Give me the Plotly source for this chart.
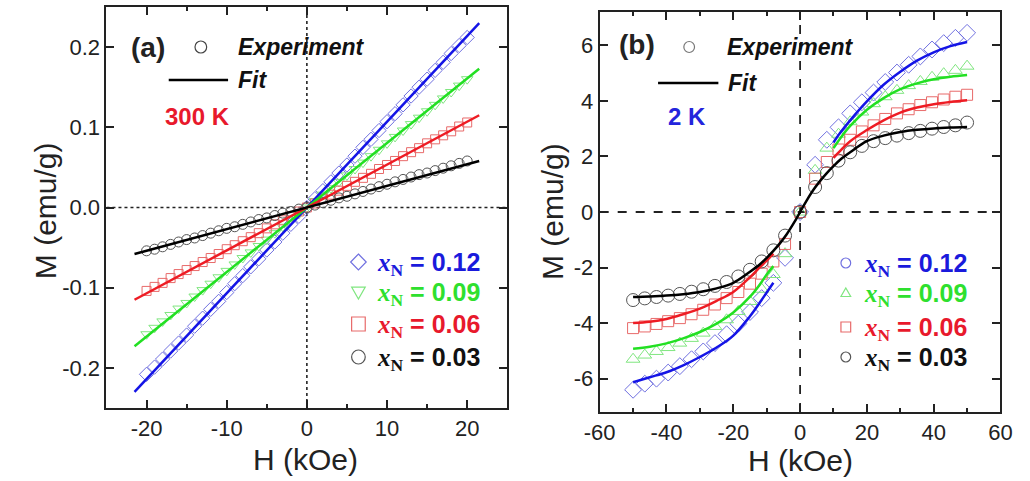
import plotly.graph_objects as go

W, H = 1030, 481

# ---------------- (a) 300 K : M(H) is linear ----------------
H_a = [-20, -19, -18, -17, -16, -15, -14, -13, -12, -11, -10, -9, -8, -7, -6, -5, -4, -3, -2, -1,
       0, 1, 2, 3, 4, 5, 6, 7, 8, 9, 10, 11, 12, 13, 14, 15, 16, 17, 18, 19, 20]

M_a_012 = [-0.208, -0.199, -0.189, -0.179, -0.169, -0.159, -0.148, -0.138, -0.127, -0.117, -0.106,
           -0.095, -0.085, -0.074, -0.064, -0.053, -0.043, -0.032, -0.021, -0.011, 0.000,
           0.011, 0.021, 0.032, 0.043, 0.053, 0.064, 0.075, 0.085, 0.096, 0.107,
           0.117, 0.128, 0.139, 0.150, 0.160, 0.171, 0.181, 0.192, 0.202, 0.212]
M_a_009 = [-0.158, -0.150, -0.142, -0.134, -0.126, -0.119, -0.111, -0.103, -0.095, -0.087, -0.079,
           -0.071, -0.063, -0.056, -0.048, -0.040, -0.032, -0.024, -0.016, -0.008, 0.000,
           0.008, 0.016, 0.024, 0.032, 0.040, 0.048, 0.056, 0.064, 0.072, 0.080,
           0.088, 0.096, 0.104, 0.112, 0.120, 0.128, 0.136, 0.144, 0.152, 0.160]
M_a_006 = [-0.104, -0.099, -0.094, -0.088, -0.083, -0.078, -0.073, -0.068, -0.063, -0.058, -0.052,
           -0.047, -0.042, -0.037, -0.032, -0.026, -0.021, -0.016, -0.011, -0.005, 0.000,
           0.005, 0.011, 0.016, 0.021, 0.027, 0.032, 0.037, 0.042, 0.048, 0.053,
           0.058, 0.064, 0.069, 0.074, 0.080, 0.085, 0.090, 0.095, 0.101, 0.106]
M_a_003 = [-0.054, -0.052, -0.049, -0.046, -0.043, -0.040, -0.038, -0.035, -0.032, -0.029, -0.026,
           -0.024, -0.021, -0.018, -0.015, -0.013, -0.010, -0.007, -0.005, -0.002, 0.000,
           0.003, 0.006, 0.009, 0.012, 0.014, 0.017, 0.020, 0.023, 0.026, 0.029,
           0.032, 0.035, 0.038, 0.041, 0.043, 0.046, 0.049, 0.052, 0.055, 0.058]

H_a_fit = [-21.5, 21.5]
F_a_012 = [-0.230, 0.230]
F_a_009 = [-0.173, 0.173]
F_a_006 = [-0.115, 0.115]
F_a_003 = [-0.058, 0.058]

# ---------------- (b) 2 K : saturating M(H) ----------------
H_b = [-50, -46.5, -43, -39.5, -36, -32.5, -29, -25.5, -22, -18.5, -15, -11.5, -8, -4.5, 0,
       4.5, 8, 11.5, 15, 18.5, 22, 25.5, 29, 32.5, 36, 39.5, 43, 46.5, 50]

M_b_012 = [-6.40, -6.18, -6.00, -5.78, -5.55, -5.30, -5.02, -4.72, -4.40, -4.02, -3.60, -3.10, -2.55, -1.65, 0.0,
           1.70, 2.60, 3.05, 3.55, 3.95, 4.30, 4.68, 5.02, 5.30, 5.60, 5.85, 6.08, 6.27, 6.45]
M_b_009 = [-5.30, -5.15, -5.02, -4.88, -4.72, -4.55, -4.36, -4.12, -3.88, -3.58, -3.22, -2.78, -2.25, -1.50, 0.0,
           1.50, 2.30, 2.80, 3.25, 3.60, 3.90, 4.15, 4.38, 4.55, 4.70, 4.85, 4.98, 5.10, 5.25]
M_b_006 = [-4.18, -4.12, -4.03, -3.93, -3.82, -3.68, -3.52, -3.33, -3.10, -2.88, -2.58, -2.22, -1.78, -1.15, 0.0,
           1.20, 1.80, 2.25, 2.60, 2.90, 3.12, 3.35, 3.55, 3.70, 3.85, 3.95, 4.05, 4.15, 4.22]
M_b_003 = [-3.17, -3.11, -3.06, -3.01, -2.95, -2.87, -2.78, -2.66, -2.52, -2.32, -2.08, -1.78, -1.38, -0.85, 0.0,
           0.90, 1.40, 1.85, 2.15, 2.38, 2.55, 2.66, 2.75, 2.84, 2.92, 3.00, 3.06, 3.12, 3.22]

# fit curves (None breaks the coloured fits around zero field)
H_b_fit = [-50, -45, -40, -35, -30, -25, -20, -15, -12, -10, -8, None,
           10, 12, 15, 20, 25, 30, 35, 40, 45, 50]
F_b_012 = [-6.13, -5.95, -5.77, -5.52, -5.22, -4.88, -4.45, -3.75, -3.25, -2.90, -2.55, None,
           2.50, 2.85, 3.30, 3.98, 4.58, 5.05, 5.45, 5.75, 5.97, 6.12]
F_b_009 = [-4.92, -4.85, -4.73, -4.55, -4.32, -4.02, -3.62, -3.05, -2.60, -2.25, -1.95, None,
           2.30, 2.65, 3.10, 3.68, 4.10, 4.42, 4.63, 4.78, 4.87, 4.93]
F_b_006 = [-4.00, -3.95, -3.85, -3.68, -3.48, -3.20, -2.88, -2.35, -1.98, -1.75, -1.50, None,
           1.95, 2.20, 2.55, 2.95, 3.30, 3.58, 3.76, 3.88, 3.96, 4.02]
H_b_fit_003 = [-50, -45, -40, -35, -30, -25, -20, -15, -12, -10, -8, -6, -4, -2, 0,
               2, 4, 6, 8, 10, 12, 15, 20, 25, 30, 35, 40, 45, 50]
F_b_003 = [-3.06, -3.04, -3.01, -2.96, -2.88, -2.75, -2.55, -2.15, -1.88, -1.65, -1.40, -1.12, -0.80, -0.42, 0.0,
           0.42, 0.80, 1.12, 1.40, 1.65, 1.88, 2.15, 2.55, 2.75, 2.88, 2.96, 3.01, 3.04, 3.06]

# tick labels
ticks_a_x = [-20, -10, 0, 10, 20]
ticks_a_x_txt = ["-20", "-10", "0", "10", "20"]
ticks_a_y = [-0.2, -0.1, 0.0, 0.1, 0.2]
ticks_a_y_txt = ["-0.2", "-0.1", "0.0", "0.1", "0.2"]
ticks_b_x = [-60, -40, -20, 0, 20, 40, 60]
ticks_b_x_txt = ["-60", "-40", "-20", "0", "20", "40", "60"]
ticks_b_y = [-6, -4, -2, 0, 2, 4, 6]
ticks_b_y_txt = ["-6", "-4", "-2", "0", "2", "4", "6"]

compositions = ["0.12", "0.09", "0.06", "0.03"]

# styles
LINE_C = ["#1414e6", "#22e022", "#ee1c24", "#000000"]
MARK_C = ["#7070e0", "#80e680", "#e86a6a", "#555555"]
TEXT_C = ["#1a1adc", "#2ee02e", "#e8192c", "#111111"]
SYM_A = ["diamond-open", "triangle-down-open", "square-open", "circle-open"]
SIZE_A = [11, 10, 9, 10]
SYM_B = ["diamond-open", "triangle-up-open", "square-open", "circle-open"]
SIZE_B = [13, 12, 11, 13]
SANS = "Liberation Sans"
SERIF = "Liberation Serif"

fig = go.Figure()

data_a = [M_a_012, M_a_009, M_a_006, M_a_003]
fits_a = [F_a_012, F_a_009, F_a_006, F_a_003]
for i in range(4):
    fig.add_trace(go.Scatter(x=H_a, y=data_a[i], mode="markers", xaxis="x", yaxis="y",
                             marker=dict(symbol=SYM_A[i], size=SIZE_A[i], color=MARK_C[i],
                                         line=dict(width=1, color=MARK_C[i])),
                             showlegend=False))
for i in range(4):
    fig.add_trace(go.Scatter(x=H_a_fit, y=fits_a[i], mode="lines", xaxis="x", yaxis="y",
                             line=dict(color=LINE_C[i], width=2.5), showlegend=False))

data_b = [M_b_012, M_b_009, M_b_006, M_b_003]
for i in range(4):
    fig.add_trace(go.Scatter(x=H_b, y=data_b[i], mode="markers", xaxis="x2", yaxis="y2",
                             marker=dict(symbol=SYM_B[i], size=SIZE_B[i], color=MARK_C[i],
                                         line=dict(width=1, color=MARK_C[i])),
                             showlegend=False))
fits_b = [(H_b_fit, F_b_012), (H_b_fit, F_b_009), (H_b_fit, F_b_006), (H_b_fit_003, F_b_003)]
for i, (hx, my) in enumerate(fits_b):
    fig.add_trace(go.Scatter(x=hx, y=my, mode="lines", xaxis="x2", yaxis="y2", connectgaps=False,
                             line=dict(color=LINE_C[i], width=2.5, shape="spline"), showlegend=False))


def px(x):
    return x / W


def py(y):
    return 1 - y / H


def axis(domain, rng, tv, tt, minor_dtick=None, anchor=None):
    d = dict(domain=domain, range=rng, tickmode="array", tickvals=tv, ticktext=tt,
             ticks="inside", ticklen=8, tickwidth=1.6, tickcolor="#222",
             showline=True, linewidth=2, linecolor="#222", mirror="allticks",
             showgrid=False, zeroline=False, anchor=anchor,
             tickfont=dict(family=SANS, size=22, color="#222"))
    if minor_dtick:
        d["minor"] = dict(dtick=minor_dtick, tick0=0, ticks="inside", ticklen=4,
                          tickwidth=1.6, tickcolor="#222", showgrid=False)
    return d


fig.update_layout(
    width=W, height=H, margin=dict(l=0, r=0, t=0, b=0),
    paper_bgcolor="white", plot_bgcolor="white",
    xaxis=axis([px(93), px(505)], [-25, 25], ticks_a_x, ticks_a_x_txt, 5, "y"),
    yaxis=axis([py(408), py(7)], [-0.25, 0.25], ticks_a_y, ticks_a_y_txt, None, "x"),
    xaxis2=axis([px(600), px(1012)], [-60, 60], ticks_b_x, ticks_b_x_txt, 10, "y2"),
    yaxis2=axis([py(412), py(12)], [-7.2, 7.2], ticks_b_y, ticks_b_y_txt, None, "x2"),
)

shapes = [
    # zero-field / zero-moment guide lines
    dict(type="line", xref="x", yref="y", x0=0, x1=0, y0=-0.25, y1=0.25,
         line=dict(color="#222", width=1.6, dash="dot"), layer="below"),
    dict(type="line", xref="x", yref="y", x0=-25, x1=25, y0=0, y1=0,
         line=dict(color="#222", width=1.6, dash="dot"), layer="below"),
    dict(type="line", xref="x2", yref="y2", x0=0, x1=0, y0=-7.2, y1=7.2,
         line=dict(color="#222", width=1.8, dash="dash"), layer="below"),
    dict(type="line", xref="x2", yref="y2", x0=-60, x1=60, y0=0, y1=0,
         line=dict(color="#222", width=1.8, dash="dash"), layer="below"),
    # white boxes behind the key texts
    dict(type="rect", xref="paper", yref="paper", x0=px(160), x1=px(365), y0=py(75), y1=py(24),
         fillcolor="white", line=dict(width=0), layer="below"),
    dict(type="rect", xref="paper", yref="paper", x0=px(660), x1=px(866), y0=py(77), y1=py(26),
         fillcolor="white", line=dict(width=0), layer="below"),
    # key: experiment symbol and fit line
    dict(type="circle", xref="paper", yref="paper", x0=px(184), x1=px(196), y0=py(53), y1=py(41),
         line=dict(color="#444", width=1.2)),
    dict(type="line", xref="paper", yref="paper", x0=px(157), x1=px(218), y0=py(80), y1=py(80),
         line=dict(color="#000", width=2.5)),
    dict(type="circle", xref="paper", yref="paper", x0=px(686.5), x1=px(697.5), y0=py(52.5), y1=py(41.5),
         line=dict(color="#777", width=1.2)),
    dict(type="line", xref="paper", yref="paper", x0=px(660), x1=px(722), y0=py(83), y1=py(83),
         line=dict(color="#000", width=2.5)),
]


def key_symbol(kind, cx, cy, r, color):
    if kind == "diamond":
        path = (f"M {px(cx)},{py(cy - r)} L {px(cx + r)},{py(cy)} L {px(cx)},{py(cy + r)} "
                f"L {px(cx - r)},{py(cy)} Z")
        return dict(type="path", xref="paper", yref="paper", path=path, line=dict(color=color, width=1.2))
    if kind == "tri_down":
        path = (f"M {px(cx - r)},{py(cy - r * 0.7)} L {px(cx + r)},{py(cy - r * 0.7)} "
                f"L {px(cx)},{py(cy + r)} Z")
        return dict(type="path", xref="paper", yref="paper", path=path, line=dict(color=color, width=1.2))
    if kind == "tri_up":
        path = (f"M {px(cx - r)},{py(cy + r * 0.7)} L {px(cx + r)},{py(cy + r * 0.7)} "
                f"L {px(cx)},{py(cy - r)} Z")
        return dict(type="path", xref="paper", yref="paper", path=path, line=dict(color=color, width=1.2))
    if kind == "square":
        return dict(type="rect", xref="paper", yref="paper", x0=px(cx - r), x1=px(cx + r),
                    y0=py(cy + r), y1=py(cy - r), line=dict(color=color, width=1.2))
    return dict(type="circle", xref="paper", yref="paper", x0=px(cx - r), x1=px(cx + r),
                y0=py(cy + r), y1=py(cy - r), line=dict(color=color, width=1.2))


rows_a = [262, 292, 324, 357]
rows_b = [263, 293, 327, 357]
kinds_a = ["diamond", "tri_down", "square", "circle"]
kinds_b = ["circle", "tri_up", "square", "circle"]
for i in range(4):
    shapes.append(key_symbol(kinds_a[i], 352, rows_a[i], 8 if i == 0 else 7, MARK_C[i]))
    shapes.append(key_symbol(kinds_b[i], 853, rows_b[i], 5, MARK_C[i]))
fig.update_layout(shapes=shapes)

ann = []


def txt(text, x, y, size, color="#111", xanchor="left", angle=0):
    ann.append(dict(text=text, x=px(x), y=py(y), xref="paper", yref="paper", showarrow=False,
                    xanchor=xanchor, yanchor="middle", textangle=angle,
                    font=dict(family=SANS, size=size, color=color)))


txt("<b>(a)</b>", 116, 47, 28, "#222")
txt("<b><i>Experiment</i></b>", 226, 47, 23)
txt("<b><i>Fit</i></b>", 226, 80, 23)
txt("<b>300 K</b>", 151, 117, 24, TEXT_C[2])
txt("<b>(b)</b>", 618, 45, 28, "#222")
txt("<b><i>Experiment</i></b>", 729, 47, 23)
txt("<b><i>Fit</i></b>", 730, 83, 23)
txt("<b>2 K</b>", 668, 117, 24, "#2424dc")

for i, c in enumerate(compositions):
    label = (f"<span style='font-family:{SERIF}'><b><i>x</i></b><sub><b>N</b></sub></span>"
             f"<b> = {c}</b>")
    txt(label, 369, rows_a[i] + 2, 25, TEXT_C[i])
    txt(label, 870, rows_b[i] + 2, 25, TEXT_C[i])

txt("H (kOe)", 298, 459, 30, "#222", xanchor="center")
txt("H (kOe)", 806, 460, 30, "#222", xanchor="center")
txt("M (emu/g)", 30, 211, 30, "#222", xanchor="center", angle=-90)
txt("M (emu/g)", 551, 212, 30, "#222", xanchor="center", angle=-90)
fig.update_layout(annotations=ann)

fig.write_html("out.html")
